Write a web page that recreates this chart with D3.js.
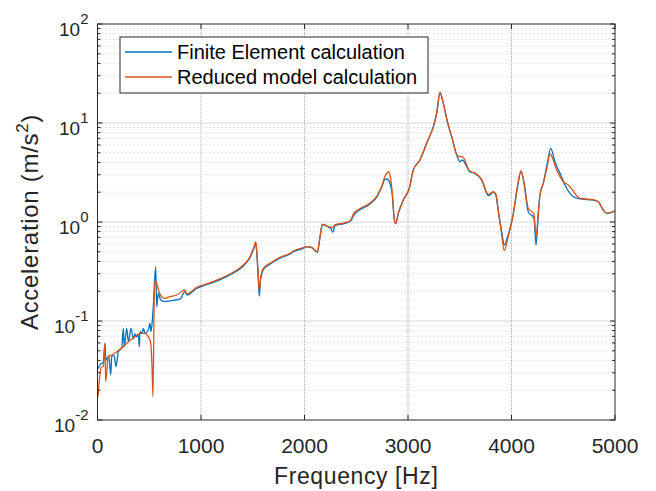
<!DOCTYPE html>
<html>
<head>
<meta charset="utf-8">
<script src="https://cdn.jsdelivr.net/npm/d3@7"></script>
<style>
  body { margin: 0; background: #fff; }
  svg { display: block; font-family: "Liberation Sans", Arial, sans-serif; }
</style>
</head>
<body>
<svg id="chart" width="656" height="491"></svg>
<script>
// Finite Element calculation (blue)
const feFreq = [5, 24, 56, 72, 82, 110, 128, 137, 160, 179, 201, 234, 249, 259, 282, 298, 324, 346, 362, 379, 395, 404, 411, 430, 443, 459, 491, 507, 517, 539, 562, 572, 587, 611, 652, 700, 797, 845, 865, 958, 1022, 1152, 1280, 1409, 1473, 1512, 1529, 1538, 1554, 1563, 1577, 1602, 1667, 1763, 1860, 1892, 1973, 2021, 2070, 2101, 2124, 2150, 2172, 2198, 2230, 2255, 2273, 2295, 2375, 2440, 2478, 2520, 2633, 2698, 2746, 2778, 2800, 2816, 2848, 2868, 2881, 2906, 2955, 3013, 3051, 3116, 3181, 3245, 3277, 3309, 3341, 3380, 3422, 3471, 3503, 3525, 3599, 3647, 3712, 3776, 3800, 3824, 3850, 3872, 3905, 3930, 3969, 4017, 4056, 4092, 4121, 4162, 4217, 4237, 4259, 4275, 4307, 4346, 4379, 4420, 4469, 4533, 4597, 4662, 4790, 4839, 4887, 4920, 5000];
const feAcc = [0.033, 0.036, 0.0388, 0.0596, 0.0404, 0.044, 0.0285, 0.0436, 0.045, 0.0345, 0.049, 0.0533, 0.0844, 0.055, 0.0844, 0.0618, 0.0844, 0.0662, 0.074, 0.0693, 0.072, 0.055, 0.078, 0.075, 0.0844, 0.0751, 0.081, 0.0948, 0.078, 0.139, 0.353, 0.139, 0.19, 0.163, 0.157, 0.16, 0.166, 0.198, 0.183, 0.213, 0.226, 0.253, 0.292, 0.36, 0.435, 0.545, 0.61, 0.5, 0.26, 0.178, 0.27, 0.33, 0.375, 0.43, 0.475, 0.5, 0.535, 0.56, 0.55, 0.515, 0.495, 0.7, 0.94, 0.93, 0.89, 0.86, 0.79, 0.92, 0.96, 1.01, 1.18, 1.3, 1.52, 1.78, 2.25, 2.7, 2.72, 2.6, 1.9, 1.05, 0.96, 1.22, 1.66, 2.19, 3.35, 4.23, 6.24, 9.18, 12.5, 20.2, 15.8, 10.3, 7.28, 4.75, 4.06, 4.23, 3.2, 3.1, 2.65, 1.85, 1.9, 2.0, 1.85, 1.3, 0.8, 0.586, 0.75, 1.2, 2.19, 3.22, 2.46, 1.27, 1.1, 0.586, 1.225, 1.874, 2.46, 3.92, 5.55, 4.06, 3.1, 2.19, 1.8, 1.71, 1.667, 1.6, 1.32, 1.225, 1.29];

// Reduced model calculation (orange)
const rmFreq = [5, 34, 56, 72, 79, 104, 137, 186, 249, 298, 346, 411, 459, 491, 514, 527, 536, 549, 558, 572, 594, 620, 652, 700, 765, 845, 862, 958, 1022, 1152, 1280, 1409, 1473, 1512, 1529, 1538, 1554, 1563, 1577, 1602, 1667, 1763, 1860, 1892, 1973, 2021, 2070, 2101, 2124, 2150, 2172, 2198, 2230, 2273, 2295, 2375, 2440, 2478, 2520, 2633, 2698, 2746, 2778, 2816, 2835, 2848, 2868, 2881, 2906, 2955, 3013, 3051, 3116, 3181, 3245, 3277, 3309, 3341, 3380, 3422, 3471, 3503, 3525, 3599, 3647, 3712, 3776, 3800, 3824, 3850, 3872, 3905, 3930, 3969, 4017, 4056, 4092, 4121, 4162, 4217, 4237, 4259, 4275, 4307, 4346, 4372, 4437, 4501, 4549, 4662, 4790, 4839, 4887, 4920, 5000];
const rmAcc = [0.0172, 0.0335, 0.0351, 0.0586, 0.0244, 0.0436, 0.0454, 0.049, 0.055, 0.0618, 0.0673, 0.0751, 0.0751, 0.0693, 0.06, 0.0345, 0.0172, 0.19, 0.259, 0.24, 0.198, 0.176, 0.169, 0.176, 0.183, 0.206, 0.1875, 0.219, 0.231, 0.259, 0.2985, 0.368, 0.446, 0.563, 0.632, 0.521, 0.28, 0.2, 0.28, 0.34, 0.383, 0.44, 0.483, 0.51, 0.545, 0.565, 0.555, 0.52, 0.5, 0.71, 0.95, 0.935, 0.9, 0.884, 0.935, 0.975, 1.03, 1.23, 1.33, 1.56, 1.82, 2.3, 2.9, 3.2, 2.6, 1.96, 1.05, 0.97, 1.23, 1.68, 2.2, 3.35, 4.25, 6.3, 9.2, 12.6, 20.5, 16, 10.4, 7.3, 4.8, 4.57, 4.57, 3.25, 3.12, 2.68, 1.9, 1.95, 2.02, 1.9, 1.3, 0.75, 0.513, 0.72, 1.2, 2.25, 3.3, 2.5, 1.374, 1.2, 0.711, 1.225, 1.874, 2.46, 3.7, 4.86, 3.35, 2.55, 2.37, 1.73, 1.68, 1.6, 1.32, 1.225, 1.3];

const xTicks = [0, 1000, 2000, 3000, 4000, 5000];
const yDecades = [-2, -1, 0, 1, 2];
const seriesNames = ["Finite Element calculation", "Reduced model calculation"];
const seriesColors = ["#0072BD", "#D95319"];

// Layout
const pLeft = 97.5, pRight = 615, pTop = 24, pBottom = 420;
const axisColor = "#262626";

const svg = d3.select("#chart");

const x = d3.scaleLinear().domain([0, 5000]).range([pLeft, pRight]);
const y = d3.scaleLog().domain([0.01, 100]).range([pBottom, pTop]);

// Grid
const grid = svg.append("g");
const minorVals = [];
for (let e = -2; e < 2; e++) {
    for (let m = 2; m <= 9; m++) minorVals.push(m * Math.pow(10, e));
}
grid.selectAll(".minor").data(minorVals).enter().append("line")
    .attr("x1", pLeft).attr("x2", pRight)
    .attr("y1", d => y(d)).attr("y2", d => y(d))
    .attr("stroke", "#c8c8c8").attr("stroke-width", 1)
    .attr("stroke-dasharray", "1,3");
grid.selectAll(".major").data(yDecades.slice(1, -1)).enter().append("line")
    .attr("x1", pLeft).attr("x2", pRight)
    .attr("y1", d => y(Math.pow(10, d))).attr("y2", d => y(Math.pow(10, d)))
    .attr("stroke", "#b0b0b0").attr("stroke-width", 1)
    .attr("stroke-dasharray", "1,1");
grid.selectAll(".vmajor").data(xTicks.slice(1, -1)).enter().append("line")
    .attr("x1", d => x(d)).attr("x2", d => x(d))
    .attr("y1", pTop).attr("y2", pBottom)
    .attr("stroke", "#b0b0b0").attr("stroke-width", 1)
    .attr("stroke-dasharray", "1,1");

// Lines
const line = d3.line()
    .x(d => x(d[0]))
    .y(d => y(d[1]))
    .curve(d3.curveMonotoneX);

const feData = feFreq.map((f, i) => [f, feAcc[i]]);
const rmData = rmFreq.map((f, i) => [f, rmAcc[i]]);

svg.append("path").datum(feData)
    .attr("d", line).attr("fill", "none")
    .attr("stroke", seriesColors[0]).attr("stroke-width", 1.3);
svg.append("path").datum(rmData)
    .attr("d", line).attr("fill", "none")
    .attr("stroke", seriesColors[1]).attr("stroke-width", 1.3);

// Axes box
svg.append("rect")
    .attr("x", pLeft).attr("y", pTop)
    .attr("width", pRight - pLeft).attr("height", pBottom - pTop)
    .attr("fill", "none").attr("stroke", axisColor).attr("stroke-width", 1);

// Ticks (inside)
const tk = svg.append("g").attr("stroke", axisColor).attr("stroke-width", 1);
xTicks.forEach(t => {
    tk.append("line").attr("x1", x(t)).attr("x2", x(t)).attr("y1", pBottom).attr("y2", pBottom - 5);
    tk.append("line").attr("x1", x(t)).attr("x2", x(t)).attr("y1", pTop).attr("y2", pTop + 5);
});
yDecades.forEach(e => {
    const yy = y(Math.pow(10, e));
    tk.append("line").attr("x1", pLeft).attr("x2", pLeft + 5).attr("y1", yy).attr("y2", yy);
    tk.append("line").attr("x1", pRight).attr("x2", pRight - 5).attr("y1", yy).attr("y2", yy);
});
minorVals.forEach(v => {
    tk.append("line").attr("x1", pLeft).attr("x2", pLeft + 3).attr("y1", y(v)).attr("y2", y(v));
    tk.append("line").attr("x1", pRight).attr("x2", pRight - 3).attr("y1", y(v)).attr("y2", y(v));
});

// Tick labels
svg.selectAll(".xlab").data(xTicks).enter().append("text")
    .attr("x", d => x(d)).attr("y", pBottom + 33)
    .attr("text-anchor", "middle")
    .attr("font-size", 21).attr("fill", axisColor)
    .text(d => d);

yDecades.forEach(e => {
    const t = svg.append("text")
        .attr("x", pLeft - 9).attr("y", y(Math.pow(10, e)) + 12)
        .attr("text-anchor", "end")
        .attr("font-size", 19).attr("fill", axisColor);
    t.append("tspan").text("10");
    t.append("tspan").attr("dy", -12).attr("font-size", 15).text(e < 0 ? "-" + Math.abs(e) : e);
});

// Axis titles
svg.append("text")
    .attr("x", (pLeft + pRight) / 2).attr("y", 484)
    .attr("text-anchor", "middle")
    .attr("font-size", 23).attr("letter-spacing", 0.6).attr("fill", axisColor)
    .text("Frequency [Hz]");

const yt = svg.append("text")
    .attr("transform", `translate(38,${(pTop + pBottom) / 2}) rotate(-90)`)
    .attr("text-anchor", "middle")
    .attr("font-size", 24).attr("letter-spacing", 0.7).attr("fill", axisColor);
yt.append("tspan").text("Acceleration (m/s");
yt.append("tspan").attr("dy", -10).attr("font-size", 17).text("2");
yt.append("tspan").attr("dy", 10).text(")");

// Legend
const lg = svg.append("g");
lg.append("rect")
    .attr("x", 120).attr("y", 37).attr("width", 308).attr("height", 56)
    .attr("fill", "#fff").attr("stroke", axisColor).attr("stroke-width", 1);
seriesNames.forEach((name, i) => {
    const cy = 52 + i * 25;
    lg.append("line")
        .attr("x1", 125).attr("x2", 172).attr("y1", cy).attr("y2", cy)
        .attr("stroke", seriesColors[i]).attr("stroke-width", 1.3);
    lg.append("text")
        .attr("x", 177).attr("y", cy + 7)
        .attr("font-size", 20).attr("fill", "#000")
        .text(name);
});
</script>
</body>
</html>
